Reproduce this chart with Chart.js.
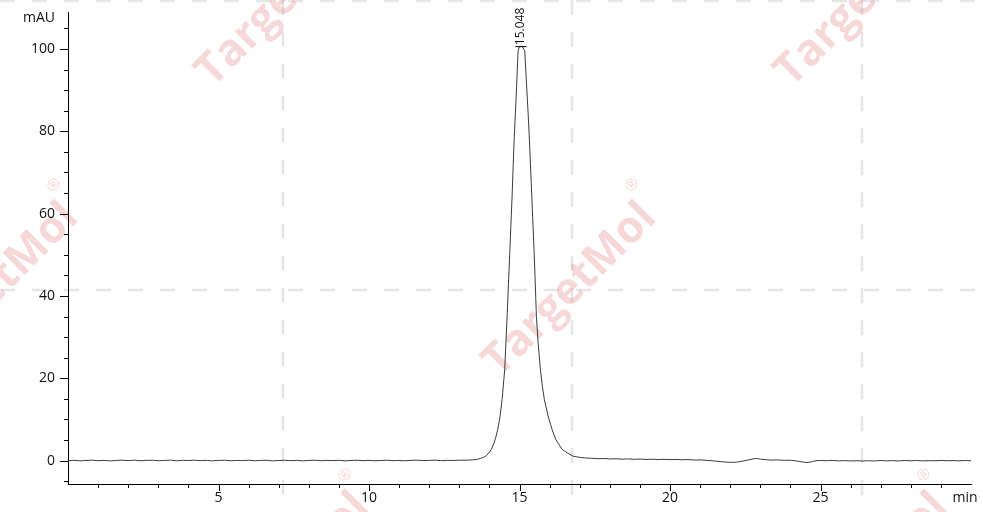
<!DOCTYPE html>
<html>
<head>
<meta charset="utf-8">
<script src="https://cdn.jsdelivr.net/npm/chart.js@4.4.0/dist/chart.umd.min.js"></script>
<style>
  html, body { margin: 0; padding: 0; background: #ffffff; }
  #wrap { width: 983px; height: 512px; }
</style>
</head>
<body>
<div id="wrap"><canvas id="c" width="983" height="512"></canvas></div>
<script>
// ---- data (retention time in min, absorbance in mAU) ----
const times = [
  0,0.2,0.4,0.6,0.8,1.0,1.2,1.4,1.6,1.8,2.0,2.2,2.4,2.6,2.8,3.0,3.2,3.4,3.6,3.8,
  4.0,4.2,4.4,4.6,4.8,5.0,5.2,5.4,5.6,5.8,6.0,6.2,6.4,6.6,6.8,7.0,7.2,7.4,7.6,7.8,
  8.0,8.2,8.4,8.6,8.8,9.0,9.2,9.4,9.6,9.8,10.0,10.2,10.4,10.6,10.8,11.0,11.2,11.4,11.6,11.8,
  12.0,12.2,12.4,12.6,12.8,13.0,13.3,13.5,13.6,13.7,13.8,13.867,13.95,14.066,14.15,14.21,14.275,14.35,14.422,14.508,
  14.588,14.674,14.75,14.821,14.86,14.91,14.953,14.99,15.048,15.11,15.173,15.23,15.29,15.33,15.41,15.49,15.562,15.62,15.695,15.76,
  15.827,15.95,16.084,16.2,16.416,16.6,16.793,17.0,17.2,17.4,17.6,17.8,18.0,18.2,18.4,18.6,18.8,19.0,19.2,19.4,
  19.6,19.8,20.0,20.2,20.4,20.6,20.8,21.0,21.2,21.4,21.6,21.8,22.0,22.2,22.4,22.6,22.8,22.9,23.0,23.2,
  23.4,23.6,23.8,24.0,24.2,24.4,24.55,24.7,24.85,25.0,25.2,25.4,25.6,25.8,26.0,26.2,26.4,26.6,26.8,27.0,
  27.2,27.4,27.6,27.8,28.0,28.2,28.4,28.6,28.8,29.0,29.2,29.4,29.6,29.8,30.0
];
const signal = [
  -0.05,0.06,-0.08,0.02,0.09,-0.04,0.05,-0.1,0.03,0.08,-0.02,0.1,-0.06,0.04,0.07,-0.05,0.02,0.09,-0.07,0.05,
  0.0,0.08,-0.04,0.06,-0.08,0.03,0.07,-0.05,0.04,-0.02,0.08,-0.06,0.03,0.06,-0.09,0.02,0.07,-0.04,0.05,-0.07,
  0.01,0.08,-0.05,0.04,-0.02,0.06,-0.08,0.03,0.07,-0.03,0.05,-0.06,0.02,0.08,-0.04,0.03,-0.07,0.05,0.09,-0.02,
  0.04,0.1,-0.03,0.06,0.02,0.08,0.1,0.2,0.3,0.5,0.8,1.0,1.6,2.7,4.2,5.6,7.5,10.5,14.8,22.1,
  35.0,50.0,63.5,77.9,83.9,92.0,99.6,100.4,100.7,100.4,99.6,92.0,83.9,77.9,64.0,50.0,35.0,28.5,22.1,18.0,
  14.8,10.8,7.5,5.2,2.7,1.8,1.0,0.8,0.62,0.55,0.45,0.5,0.38,0.45,0.33,0.4,0.3,0.37,0.27,0.33,
  0.24,0.3,0.22,0.28,0.18,0.24,0.12,0.16,0.05,-0.05,-0.2,-0.35,-0.45,-0.4,-0.15,0.15,0.45,0.5,0.35,0.2,
  0.1,0.14,0.05,0.08,-0.1,-0.35,-0.5,-0.3,-0.05,0.02,-0.05,0.03,-0.08,-0.02,-0.1,-0.04,-0.12,-0.05,-0.1,0.0,
  -0.08,-0.03,-0.1,0.02,-0.06,0.01,-0.09,-0.02,-0.07,0.03,-0.05,-0.01,-0.08,0.0,-0.04
];
const xLabelTicks = [5, 10, 15, 20, 25];
const yLabelTicks = [0, 20, 40, 60, 80, 100];
const peakTimes = [15.048];
const peakHeights = [100.7];
const peakLabels = ["15.048"];
const xAxisUnit = "min";
const yAxisUnit = "mAU";
const watermarkText = "TargetMol";

// ---- plugins ----
const background = {
  id: 'background',
  beforeDraw(chart) {
    const ctx = chart.ctx;
    ctx.save();
    ctx.fillStyle = '#ffffff';
    ctx.fillRect(0, 0, chart.width, chart.height);
    // dashed watermark grid
    ctx.strokeStyle = '#e6e6e6';
    ctx.lineWidth = 2.5;
    ctx.setLineDash([15, 17]);
    [283, 572, 862].forEach(x => {
      ctx.beginPath(); ctx.moveTo(x, 0); ctx.lineTo(x, chart.height); ctx.stroke();
    });
    [1, 290].forEach(y => {
      ctx.beginPath(); ctx.moveTo(0, y); ctx.lineTo(chart.width, y); ctx.stroke();
    });
    ctx.setLineDash([]);
    // watermark text
    const centers = [[283, 0], [862, 0], [-8, 290], [570, 290], [283, 580], [862, 580]];
    centers.forEach(([cx, cy]) => {
      ctx.save();
      ctx.translate(cx, cy);
      ctx.rotate(-Math.PI / 4);
      ctx.fillStyle = 'rgba(222, 110, 110, 0.27)';
      ctx.font = 'bold 44px "Open Sans", sans-serif';
      ctx.textAlign = 'center';
      ctx.textBaseline = 'middle';
      ctx.fillText(watermarkText, 0, 0);
      ctx.font = '16px "Open Sans", sans-serif';
      ctx.fillText('\u00AE', 118, -30);
      ctx.restore();
    });
    ctx.restore();
  }
};

const ticksAndLabels = {
  id: 'ticksAndLabels',
  afterDraw(chart) {
    const ctx = chart.ctx;
    const xs = chart.scales.x, ys = chart.scales.y;
    const area = chart.chartArea;
    ctx.save();
    ctx.strokeStyle = '#000';
    ctx.lineWidth = 1;
    // x ticks (minor every 1 min, major every 5)
    for (let v = 1; v < xs.max; v++) {
      const px = Math.round(xs.getPixelForValue(v)) + 0.5;
      const len = (v % 5 === 0) ? 7 : 4;
      ctx.beginPath(); ctx.moveTo(px, area.bottom); ctx.lineTo(px, area.bottom + len); ctx.stroke();
    }
    // y ticks (minor every 5, major every 20)
    for (let v = -5; v <= ys.max; v += 5) {
      const py = Math.round(ys.getPixelForValue(v)) + 0.5;
      const len = (v % 20 === 0) ? 8 : 4;
      ctx.beginPath(); ctx.moveTo(area.left, py); ctx.lineTo(area.left - len, py); ctx.stroke();
    }
    // axis unit labels
    ctx.fillStyle = '#111';
    ctx.font = '14px "Open Sans", sans-serif';
    ctx.textBaseline = 'middle';
    ctx.textAlign = 'right';
    ctx.fillText(yAxisUnit, 55, 18);
    ctx.textAlign = 'center';
    ctx.fillText(xAxisUnit, 965, 498);
    // peak labels
    peakTimes.forEach((t, i) => {
      const px = xs.getPixelForValue(t);
      const py = ys.getPixelForValue(peakHeights[i]);
      ctx.beginPath(); ctx.moveTo(px - 5.5, py + 0.5); ctx.lineTo(px + 5.5, py + 0.5); ctx.stroke();
      ctx.save();
      ctx.translate(px, py - 1);
      ctx.rotate(-Math.PI / 2);
      ctx.font = '12px "Open Sans", sans-serif';
      ctx.textAlign = 'left';
      ctx.textBaseline = 'middle';
      ctx.fillStyle = '#111';
      ctx.fillText(peakLabels[i], 0, 0);
      ctx.restore();
    });
    ctx.restore();
  }
};

function noEdgePadding(s) {
  s.paddingTop = 0; s.paddingBottom = 0; s.paddingLeft = 0; s.paddingRight = 0;
}

new Chart(document.getElementById('c'), {
  type: 'line',
  data: {
    datasets: [{
      data: times.map((t, i) => ({ x: t, y: signal[i] })),
      borderColor: '#3c3c3c',
      borderWidth: 1,
      pointRadius: 0,
      tension: 0,
      fill: false
    }]
  },
  options: {
    responsive: false,
    animation: false,
    layout: { padding: { left: 0, right: 12, top: 12, bottom: 0 } },
    plugins: { legend: { display: false }, tooltip: { enabled: false } },
    scales: {
      x: {
        type: 'linear',
        min: 0, max: 30,
        afterBuildTicks: s => { s.ticks = xLabelTicks.map(v => ({ value: v })); },
        afterFit: s => { s.height = 28; noEdgePadding(s); },
        grid: { display: false, drawTicks: false },
        border: { display: true, color: '#000', width: 1 },
        ticks: { padding: 6, maxRotation: 0, color: '#111', font: { family: '"Open Sans", sans-serif', size: 14 } }
      },
      y: {
        type: 'linear',
        min: -5.7, max: 109,
        afterBuildTicks: s => { s.ticks = yLabelTicks.map(v => ({ value: v })); },
        afterFit: s => { s.width = 68; noEdgePadding(s); },
        grid: { display: false, drawTicks: false },
        border: { display: true, color: '#000', width: 1 },
        ticks: { padding: 13, color: '#111', font: { family: '"Open Sans", sans-serif', size: 14 } }
      }
    }
  },
  plugins: [background, ticksAndLabels]
});
</script>
</body>
</html>
